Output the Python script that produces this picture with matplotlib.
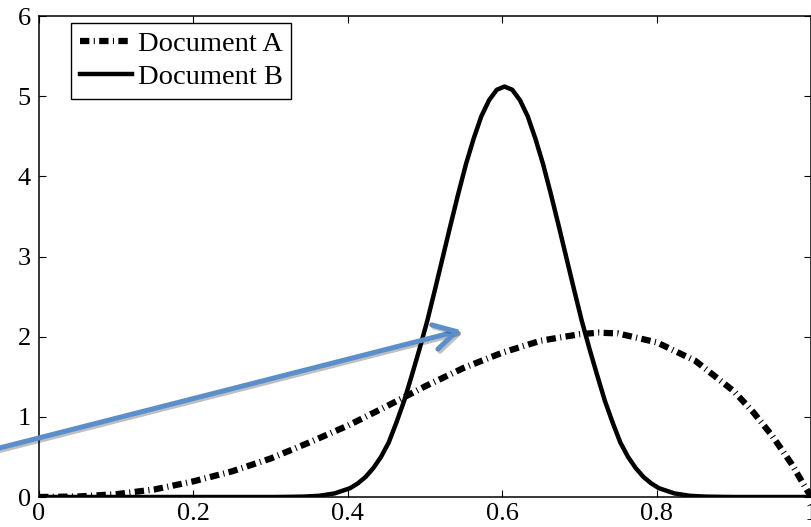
import matplotlib
matplotlib.use('Agg')
import matplotlib.pyplot as plt
import matplotlib.patheffects as pe

plt.rcParams['font.family'] = ['Liberation Serif', 'DejaVu Serif']

# Document A (dash-dot curve)
doc_a_x = [0.0, 0.05, 0.10, 0.15, 0.20, 0.25, 0.30, 0.35, 0.40, 0.45, 0.50,
           0.55, 0.60, 0.65, 0.70, 0.725, 0.75, 0.80, 0.85, 0.90, 0.925,
           0.95, 0.975, 1.0]
doc_a_y = [0.0, 0.006, 0.035, 0.095, 0.195, 0.32, 0.48, 0.68, 0.89, 1.13, 1.38,
           1.61, 1.80, 1.95, 2.03, 2.05, 2.04, 1.93, 1.70, 1.32, 1.06,
           0.76, 0.41, 0.0]

# Document B (solid curve)
doc_b_x = [0.0, 0.303, 0.323, 0.343, 0.363, 0.383, 0.403, 0.413, 0.423, 0.433,
           0.443, 0.453, 0.463, 0.473, 0.483, 0.493, 0.503, 0.513, 0.523,
           0.533, 0.543, 0.553, 0.563, 0.573, 0.583, 0.593, 0.603, 0.613,
           0.623, 0.633, 0.643, 0.653, 0.663, 0.673, 0.683, 0.693, 0.703,
           0.713, 0.723, 0.733, 0.743, 0.753, 0.763, 0.773, 0.783, 0.793,
           0.803, 0.823, 0.843, 0.863, 0.883, 0.903, 1.0]
doc_b_y = [0.0, 0.0, 0.002, 0.005, 0.015, 0.045, 0.11, 0.17, 0.25, 0.36,
           0.50, 0.68, 0.93, 1.20, 1.52, 1.85, 2.20, 2.59, 2.99,
           3.39, 3.78, 4.15, 4.47, 4.75, 4.95, 5.08, 5.12, 5.08,
           4.95, 4.75, 4.47, 4.15, 3.78, 3.39, 2.99, 2.59, 2.20,
           1.85, 1.52, 1.20, 0.93, 0.68, 0.50, 0.36, 0.25, 0.17,
           0.11, 0.045, 0.015, 0.005, 0.002, 0.0, 0.0]

x_ticks = [0, 0.2, 0.4, 0.6, 0.8, 1]
x_labels = ['0', '0.2', '0.4', '0.6', '0.8', '1']
y_ticks = [0, 1, 2, 3, 4, 5, 6]

arrow_tip = (0.547, 2.08)
arrow_tail = (-0.06, 0.59)

fig = plt.figure(figsize=(8.12, 5.27), dpi=100)
ax = fig.add_axes([39 / 812, 30 / 527, 772 / 812, 481 / 527])

ax.plot(doc_a_x, doc_a_y, color='black', lw=4.5,
        linestyle=(0, (1.5, 0.7, 0.17, 0.7)), label='Document A')
ax.plot(doc_b_x, doc_b_y, color='black', lw=3.2, label='Document B')

ax.set_xlim(0, 1)
ax.set_ylim(0, 6)
ax.set_xticks(x_ticks)
ax.set_xticklabels(x_labels)
ax.set_yticks(y_ticks)
ax.tick_params(direction='in', top=True, right=True, length=5, width=0.8,
               labelsize=19, pad=4)
ax.tick_params(axis='y', pad=6)
for s in ax.spines.values():
    s.set_linewidth(1.1)

leg = ax.legend(loc='upper left', bbox_to_anchor=(0.0414, 0.986),
                borderaxespad=0, fancybox=False, framealpha=1,
                edgecolor='black', fontsize=20.5, handlelength=1.85,
                handletextpad=0.2, labelspacing=0.25, borderpad=0.3)
leg.get_frame().set_linewidth(1.0)

ax.annotate('', xy=arrow_tip, xytext=arrow_tail, annotation_clip=False,
            arrowprops=dict(arrowstyle='->,head_length=0.8,head_width=0.45',
                            mutation_scale=20, color='#5b8fcc', lw=3.6,
                            shrinkA=0, shrinkB=0,
                            path_effects=[pe.SimpleLineShadow(offset=(1.5, -1.5), alpha=0.25),
                                          pe.Normal()]))

fig.savefig('out.png', dpi=100)
